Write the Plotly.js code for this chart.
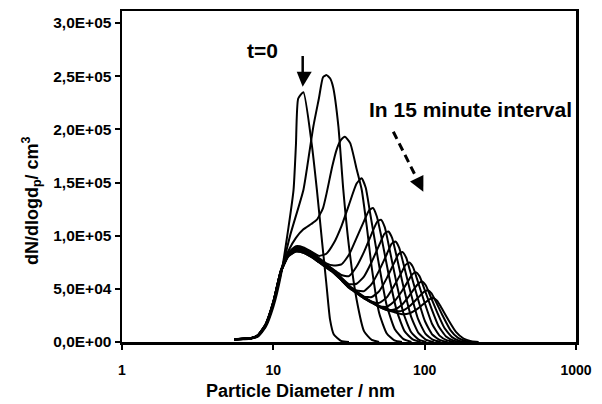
<!DOCTYPE html>
<html><head><meta charset="utf-8">
<script src="https://cdn.plot.ly/plotly-3.0.1.min.js"></script>
<style>html,body{margin:0;padding:0;background:#fff}#chart{width:602px;height:404px}</style>
</head><body><div id="chart"></div>
<script>
// Particle diameter (nm) and dN/dlogdp (1/cm3), one pair per 15-minute scan (t=0 first)
const d0 = [5.5, 6.3, 7.1, 7.9, 8.9, 10, 11.2, 12.6, 13.6, 14.1, 14.6, 15.8, 17.9, 19.4, 21, 22.4, 23.7, 25.1, 28, 31.6];
const n0 = [2000, 2500, 3000, 5000, 14000, 33000, 62000, 108000, 143000, 185000, 229000, 235000, 187000, 143000, 94000, 55000, 21000, 7000, 1000, 0];
const d1 = [5.5, 6.3, 7.1, 7.9, 8.9, 10, 11.2, 12.9, 15.8, 17, 18.4, 20, 21.3, 22.5, 23.7, 24.8, 26.9, 29, 31.6, 35.5, 39.8, 44.7, 50];
const n1 = [2500, 3000, 3500, 6000, 16000, 36000, 64000, 100000, 143000, 171000, 203000, 229000, 249000, 251000, 248000, 240000, 203000, 143000, 90000, 40000, 10000, 2000, 0];
const d2 = [5.5, 6.3, 7.1, 7.9, 8.9, 10, 11.2, 12.6, 14.1, 15.8, 17.8, 19.4, 21.3, 22.5, 24.5, 26.2, 28, 29.7, 32.2, 35.6, 38.4, 41.5, 44.7, 50.1, 56.2, 63.1, 70.8];
const n2 = [2600, 3100, 3600, 6500, 17000, 38000, 67000, 86000, 98000, 106000, 111000, 115000, 126000, 140000, 165000, 181000, 190000, 193000, 187000, 162000, 143000, 108000, 70000, 27000, 8000, 1500, 0];
const d3 = [5.5, 6.3, 7.1, 7.9, 8.9, 10, 11.2, 12.6, 14.1, 15.8, 17.8, 20, 22.4, 25.1, 28.2, 31.6, 35.5, 38.3, 40.8, 43.4, 49.3, 56, 63.5, 72.1, 81.8];
const n3 = [2400, 2900, 3400, 5800, 15500, 36500, 65500, 84000, 90000, 89000, 85000, 81000, 83000, 93000, 109000, 129000, 149000, 154000, 145000, 123000, 77000, 35000, 12000, 3000, 0];
const d4 = [5.5, 6.3, 7.1, 7.9, 8.9, 10, 11.2, 12.6, 14.1, 15.8, 17.8, 20, 22.4, 25.1, 28.2, 31.6, 35.5, 39.8, 43, 45.5, 48.3, 51.4, 57.9, 65.5, 73.8, 83.4, 94];
const n4 = [2700, 3200, 3700, 6400, 16500, 37500, 66500, 83000, 89000, 88000, 84000, 79000, 74000, 72000, 73000, 82000, 98000, 114000, 124000, 126000, 118000, 101000, 63000, 29000, 10000, 2500, 0];
const d5 = [5.5, 6.3, 7.1, 7.9, 8.9, 10, 11.2, 12.6, 14.1, 15.8, 17.8, 20, 22.4, 25.1, 28.2, 31.6, 35.5, 39.8, 44.7, 48.5, 51.4, 54.5, 57.7, 64.7, 72.6, 81.5, 91.4, 102.6];
const n5 = [2300, 2800, 3300, 5600, 15000, 36000, 65000, 83000, 88000, 87000, 83000, 78000, 73000, 68000, 63000, 62000, 71000, 85000, 102000, 113000, 115000, 108000, 92000, 57500, 26500, 9200, 2300, 0];
const d6 = [5.5, 6.3, 7.1, 7.9, 8.9, 10, 11.2, 12.6, 14.1, 15.8, 17.8, 20, 22.4, 25.1, 28.2, 31.6, 35.5, 39.8, 44.7, 50.1, 54.3, 57.5, 61, 64.6, 72.4, 81.3, 91.2, 102.3, 114.8];
const n6 = [2600, 3000, 3600, 6200, 16500, 37000, 66000, 83000, 87500, 86500, 82500, 77500, 72500, 67500, 60500, 54400, 54800, 61800, 75500, 91200, 101900, 104000, 97800, 83200, 52000, 23900, 8300, 2100, 0];
const d7 = [5.5, 6.3, 7.1, 7.9, 8.9, 10, 11.2, 12.6, 14.1, 15.8, 17.8, 20, 22.4, 25.1, 28.2, 31.6, 35.5, 39.8, 44.7, 50.1, 56.2, 60.4, 64, 67.8, 71.8, 80.5, 90.4, 101.4, 113.8, 127.6];
const n7 = [2400, 3100, 3500, 6000, 16000, 37500, 67000, 83000, 87000, 86000, 82000, 77000, 72000, 67000, 60000, 53000, 48500, 47900, 54700, 67400, 82500, 92300, 94500, 88800, 75600, 47300, 21700, 7600, 1900, 0];
const d8 = [5.5, 6.3, 7.1, 7.9, 8.9, 10, 11.2, 12.6, 14.1, 15.8, 17.8, 20, 22.4, 25.1, 28.2, 31.6, 35.5, 39.8, 44.7, 50.1, 56.2, 63.1, 67.1, 71.2, 75.4, 79.8, 89.5, 100.5, 112.7, 126.5, 141.9];
const n8 = [2500, 2900, 3400, 5900, 15800, 36500, 65500, 82500, 86500, 85500, 81500, 76500, 71500, 66500, 59500, 52500, 47500, 42700, 42300, 47900, 60100, 74900, 82500, 84600, 79500, 67700, 42300, 19500, 6800, 1700, 0];
const d9 = [5.5, 6.3, 7.1, 7.9, 8.9, 10, 11.2, 12.6, 14.1, 15.8, 17.8, 20, 22.4, 25.1, 28.2, 31.6, 35.5, 39.8, 44.7, 50.1, 56.2, 63.1, 70.8, 74.7, 79.2, 83.9, 88.8, 99.7, 111.8, 125.4, 140.8, 157.9];
const n9 = [2700, 3100, 3700, 6300, 16800, 38000, 67000, 82000, 86000, 85000, 81000, 76000, 71000, 66000, 59000, 52000, 47000, 42000, 38000, 36800, 42000, 53400, 66200, 72500, 74700, 70200, 59800, 37400, 17200, 6000, 1500, 0];
const d10 = [5.5, 6.3, 7.1, 7.9, 8.9, 10, 11.2, 12.6, 14.1, 15.8, 17.8, 20, 22.4, 25.1, 28.2, 31.6, 35.5, 39.8, 44.7, 50.1, 56.2, 63.1, 70.8, 79.4, 82.5, 87.4, 92.6, 98, 110, 123.4, 138.5, 155.4, 174.3];
const n10 = [2400, 2800, 3300, 5700, 15200, 36000, 65000, 82000, 85500, 84500, 80500, 75500, 70500, 65500, 58500, 51500, 46500, 41500, 37500, 33500, 33100, 38300, 48000, 59500, 63400, 65600, 61700, 52500, 32800, 15100, 5200, 1300, 0];
const d11 = [5.5, 6.3, 7.1, 7.9, 8.9, 10, 11.2, 12.6, 14.1, 15.8, 17.8, 20, 22.4, 25.1, 28.2, 31.6, 35.5, 39.8, 44.7, 50.1, 56.2, 63.1, 70.8, 79.4, 89.1, 95.7, 101.4, 107.4, 120.4, 135.2, 151.6, 170.1, 190.9];
const n11 = [2600, 3000, 3500, 6100, 16200, 37000, 66000, 81000, 85000, 84000, 80000, 75000, 70000, 65000, 58000, 51000, 46000, 41000, 37000, 33000, 30100, 30600, 35100, 43800, 53600, 57000, 53600, 45600, 28500, 13100, 4600, 1100, 0];
const d12 = [5.5, 6.3, 7.1, 7.9, 8.9, 10, 11.2, 12.6, 14.1, 15.8, 17.8, 20, 22.4, 25.1, 28.2, 31.6, 35.5, 39.8, 44.7, 50.1, 56.2, 63.1, 70.8, 79.4, 89.1, 98.9, 104.8, 111, 117.6, 131.9, 148, 166.1, 186.4, 209.1];
const n12 = [2500, 3100, 3600, 6000, 16000, 37500, 66500, 81500, 86000, 85000, 81000, 76000, 71000, 66000, 59000, 52000, 47000, 42000, 38000, 34000, 31000, 29200, 29300, 33600, 40700, 47100, 48700, 45800, 39000, 24400, 11200, 3900, 1000, 0];
const d13 = [5.5, 6.3, 7.1, 7.9, 8.9, 10, 11.2, 12.6, 14.1, 15.8, 17.8, 20, 22.4, 25.1, 28.2, 31.6, 35.5, 39.8, 44.7, 50.1, 56.2, 63.1, 70.8, 79.4, 89.1, 100, 107.6, 114, 120.7, 127.9, 143.5, 160.9, 180.6, 202.6, 227.3];
const n13 = [2300, 2900, 3400, 5800, 15500, 36500, 65500, 80500, 85000, 84000, 80000, 75000, 70000, 65000, 58000, 51000, 46000, 41000, 37000, 33000, 30000, 28000, 26200, 27000, 30900, 36700, 40200, 41400, 38900, 33100, 20700, 9500, 3300, 800, 0];

const X_TICK_VALUES = [1, 10, 100, 1000];
const X_TICK_LABELS = ['1', '10', '100', '1000'];
const Y_TICK_VALUES = [0, 50000, 100000, 150000, 200000, 250000, 300000];
const Y_TICK_LABELS = ['0,0E+00', '5,0E+04', '1,0E+05', '1,5E+05', '2,0E+05', '2,5E+05', '3,0E+05'];

const SERIES = [[d0,n0],[d1,n1],[d2,n2],[d3,n3],[d4,n4],[d5,n5],[d6,n6],[d7,n7],[d8,n8],[d9,n9],[d10,n10],[d11,n11],[d12,n12],[d13,n13]];

const FONT = 'Liberation Sans, Arial, Helvetica, sans-serif';
const traces = SERIES.map(function (s) {
  return {x: s[0], y: s[1], type: 'scatter', mode: 'lines',
    line: {color: '#000', width: 2, shape: 'spline', smoothing: 0.5},
    hoverinfo: 'skip', showlegend: false};
});

const layout = {
  width: 602, height: 404,
  margin: {l: 122, r: 26, t: 11, b: 62, pad: 0},
  paper_bgcolor: '#fff', plot_bgcolor: '#fff', showlegend: false,
  font: {family: FONT, color: '#000'},
  xaxis: {type: 'log', range: [0, 3], tickvals: X_TICK_VALUES, ticktext: X_TICK_LABELS,
    ticks: 'outside', ticklen: 5, tickwidth: 2, tickcolor: '#000', ticklabelstandoff: 9,
    showline: true, linewidth: 2.5, linecolor: '#000', mirror: true,
    showgrid: false, zeroline: false, tickfont: {family: FONT, size: 14, weight: 'bold', color: '#000'}},
  yaxis: {range: [0, 311300], tickvals: Y_TICK_VALUES, ticktext: Y_TICK_LABELS,
    ticks: 'outside', ticklen: 5, tickwidth: 2, tickcolor: '#000',
    showline: true, linewidth: 2.5, linecolor: '#000', mirror: true,
    showgrid: false, zeroline: false, tickfont: {family: FONT, size: 15.5, weight: 'bold', color: '#000'}},
  annotations: [
    {xref: 'paper', yref: 'paper', x: 0.393, y: -0.148, text: 'Particle Diameter / nm', showarrow: false,
      xanchor: 'center', yanchor: 'middle', font: {family: FONT, size: 18, weight: 'bold', color: '#000'}},
    {xref: 'paper', yref: 'paper', x: -0.198, y: 0.426, text: 'dN/dlogd<sub>p</sub>/ cm<sup>3</sup>', showarrow: false,
      textangle: -90, xanchor: 'center', yanchor: 'middle', font: {family: FONT, size: 18, weight: 'bold', color: '#000'}},
    {xref: 'paper', yref: 'paper', x: 0.3095, y: 0.882, text: 't=0', showarrow: false,
      xanchor: 'center', yanchor: 'middle', font: {family: FONT, size: 21, weight: 'bold', color: '#000'}},
    {xref: 'paper', yref: 'paper', x: 0.7683, y: 0.701, text: 'In 15 minute interval', showarrow: false,
      xanchor: 'center', yanchor: 'middle', font: {family: FONT, size: 21, weight: 'bold', color: '#000'}}
  ],
  shapes: [
    {type: 'line', xref: 'paper', yref: 'paper', x0: 0.398, x1: 0.398, y0: 0.864, y1: 0.81, line: {color: '#000', width: 2.5}},
    {type: 'path', xref: 'paper', yref: 'paper', path: 'M 0.3849 0.8166 L 0.4179 0.8166 L 0.398 0.7713 Z', fillcolor: '#000', line: {width: 0}},
    {type: 'line', xref: 'paper', yref: 'paper', x0: 0.5976, y0: 0.6353, x1: 0.6491, y1: 0.4949, line: {color: '#000', width: 3, dash: '8px,5px'}},
    {type: 'path', xref: 'paper', yref: 'paper', path: 'M 0.6639 0.5048 L 0.6344 0.4849 L 0.6637 0.4541 Z', fillcolor: '#000', line: {width: 0}}
  ]
};

Plotly.newPlot('chart', traces, layout, {staticPlot: true, displayModeBar: false});
</script>
</body></html>
